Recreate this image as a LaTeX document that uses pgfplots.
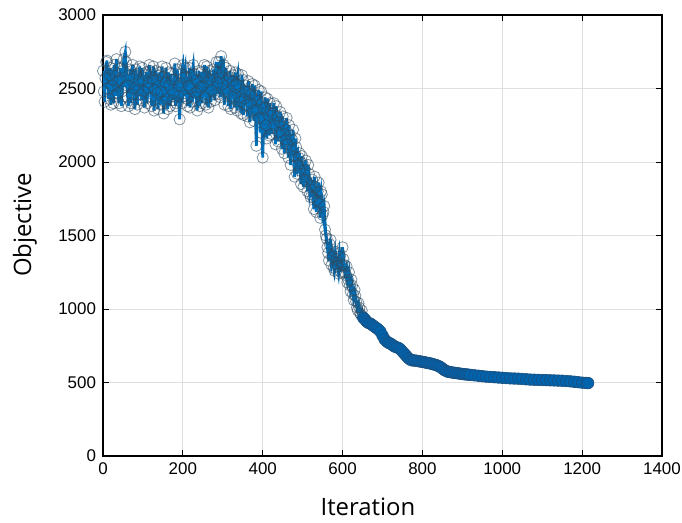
\documentclass[border=0pt]{standalone}
\usepackage{pgfplots}
\pgfplotsset{compat=1.18}
\usepackage{fontspec}
\setmainfont{Liberation Sans}
\newfontfamily\labelfont{Open Sans}
\definecolor{mblue}{HTML}{0072BD}
\definecolor{mfill}{HTML}{0063AE}
\definecolor{mdark}{HTML}{2E4B62}
\definecolor{medge}{HTML}{1D4F7E}
\begin{document}
\begin{tikzpicture}
\begin{axis}[
  scale only axis, width=279.5bp, height=220.5bp,
  xmin=0, xmax=1400, ymin=0, ymax=3000,
  xtick={0,200,...,1400}, ytick={0,500,...,3000},
  grid=major, major grid style={gray!25, line width=0.5bp},
  tick align=inside, major tick length=3bp,
  tick style={black, line width=0.5bp},
  axis line style={black, line width=0.6bp},
  ticklabel style={font=\fontsize{8.5}{10}\selectfont},
  /pgf/number format/assume math mode=true,
  /pgf/number format/1000 sep={},
  scaled ticks=false,
  xlabel={Iteration}, ylabel={Objective},
  label style={font=\labelfont\fontsize{12}{14}\selectfont},
  xlabel style={at={(axis description cs:0.474,-0.1338)}, anchor=base},
  ylabel style={at={(axis description cs:-0.1395,0.524)}, anchor=center},
  noisy/.style={color=mblue, line width=1.4bp, mark=o, mark size=2.8bp,
    mark options={draw=mdark, draw opacity=0.6, line width=0.4bp}},
]
\coordinate (ll) at (rel axis cs:0,0);
\coordinate (ur) at (rel axis cs:1,1);
\addplot[noisy] coordinates {
(0,2620)(4,2410)(8,2680)(12,2500)(16,2590)(20,2390)(24,2560)(28,2660)(32,2450)(36,2550)
(40,2400)(44,2640)(48,2480)(52,2700)(56,2750)(60,2520)(64,2380)(68,2630)(72,2460)(76,2580)
(80,2360)(84,2600)(88,2490)(92,2650)(96,2420)(100,2560)(104,2370)(108,2610)(112,2500)(116,2660)
(120,2440)(124,2570)(128,2350)(132,2620)(136,2470)(140,2590)(144,2390)(148,2650)(152,2330)(156,2540)
(160,2430)(164,2610)(168,2380)(172,2560)(176,2470)(180,2670)(184,2400)(188,2520)(192,2290)(196,2600)
(200,2660)(204,2450)(208,2580)(212,2380)(216,2640)(220,2500)(224,2410)(228,2600)(232,2470)(236,2350)
(240,2620)(244,2510)(248,2400)(252,2580)(256,2440)(260,2650)(264,2370)(268,2560)(272,2490)(276,2630)
(280,2420)(284,2680)(288,2460)(292,2570)(296,2720)(300,2530)(304,2390)(308,2640)(312,2470)(316,2580)
(320,2360)(324,2550)(328,2440)(332,2610)(336,2350)(340,2520)(344,2410)(348,2590)(352,2320)(356,2480)
(360,2390)(364,2550)(368,2270)(372,2460)(376,2350)(380,2520)(384,2110)(388,2420)(392,2300)(396,2480)
(400,2030)(404,2370)(408,2250)(412,2430)(416,2180)(420,2350)(424,2230)(428,2400)(432,2120)(436,2310)
(440,2200)(444,2340)(448,2090)(452,2260)(456,2150)(460,2300)(464,2030)(468,2180)(472,2080)(476,2220)
(480,1900)(484,2100)(488,1980)(492,2060)(496,1850)(500,1990)(504,1880)(508,2010)(512,1800)(516,1920)
(520,1760)(524,1880)(528,1680)(532,1830)(536,1740)(540,1860)(544,1620)(548,1780)(552,1660)(556,1540)
(560,1480)(564,1380)(568,1440)(572,1300)(576,1360)(580,1260)(584,1340)(588,1290)(592,1380)(596,1250)
(600,1420)(604,1300)(608,1230)(612,1180)(616,1250)(620,1120)(624,1160)(628,1060)(632,1090)(636,1010)
(640,1040)(644,970)(648,990)(652,940)
};
\addplot[noisy] coordinates {
(2,2480)(6,2570)(10,2690)(14,2430)(18,2640)(22,2520)(26,2400)(30,2610)(34,2700)(38,2470)
(42,2560)(46,2380)(50,2620)(54,2510)(58,2680)(62,2440)(66,2590)(70,2400)(74,2660)(78,2500)
(82,2630)(86,2390)(90,2550)(94,2460)(98,2640)(102,2480)(106,2590)(110,2400)(114,2540)(118,2620)
(122,2380)(126,2650)(130,2490)(134,2560)(138,2360)(142,2610)(146,2480)(150,2580)(154,2410)(158,2640)
(162,2360)(166,2520)(170,2600)(174,2420)(178,2560)(182,2380)(186,2630)(190,2450)(194,2540)(198,2400)
(202,2570)(206,2640)(210,2430)(214,2520)(218,2370)(222,2590)(226,2660)(230,2440)(234,2560)(238,2480)
(242,2380)(246,2610)(250,2520)(254,2660)(258,2390)(262,2540)(266,2620)(270,2410)(274,2580)(278,2460)
(282,2610)(286,2540)(290,2680)(294,2440)(298,2610)(302,2660)(306,2480)(310,2560)(314,2380)(318,2620)
(322,2450)(326,2590)(330,2370)(334,2530)(338,2600)(342,2440)(346,2330)(350,2560)(354,2430)(358,2520)
(362,2310)(366,2480)(370,2400)(374,2530)(378,2280)(382,2450)(386,2360)(390,2490)(394,2200)(398,2400)
(402,2290)(406,2440)(410,2160)(414,2320)(418,2400)(422,2190)(426,2330)(430,2250)(434,2380)(438,2140)
(442,2270)(446,2180)(450,2310)(454,2060)(458,2220)(462,2120)(466,2250)(470,1980)(474,2150)(478,2040)
(482,2160)(486,1920)(490,2030)(494,1940)(498,2040)(502,1830)(506,1950)(510,1870)(514,1980)(518,1780)
(522,1840)(526,1760)(530,1900)(534,1660)(538,1800)(542,1720)(546,1800)(550,1640)(554,1700)(558,1500)
(562,1420)(566,1330)(570,1470)(574,1350)(578,1280)(582,1390)(586,1310)(590,1240)(594,1360)(598,1300)
(602,1340)(606,1250)(610,1290)(614,1200)(618,1160)(622,1200)(626,1100)(630,1130)(634,1050)(638,990)
(642,1010)(646,960)(650,950)
};
\addplot[color=mblue, line width=1bp, mark=*, mark size=2.9bp,
  mark options={fill=mfill, draw=medge, line width=0.3bp}] coordinates {
(652,940)(656,930)(660,915)(665,905)(670,900)(675,890)(680,880)(685,870)(690,860)(695,845)
(700,820)(705,795)(710,780)(715,770)(720,765)(725,755)(730,745)(735,740)(740,735)(745,725)
(750,710)(755,695)(760,680)(765,665)(770,655)(775,650)(780,650)(785,648)(790,645)(795,643)
(800,640)(805,638)(810,635)(815,632)(820,630)(825,625)(830,622)(835,618)(840,612)(845,605)
(850,595)(855,585)(860,578)(865,572)(870,570)(875,568)(880,566)(885,564)(890,562)(895,560)
(900,558)(905,556)(910,555)(915,553)(920,552)(930,549)(940,546)(950,543)(960,540)(970,538)
(980,536)(990,534)(1000,532)(1010,530)(1020,528)(1030,527)(1040,526)(1050,524)(1060,522)(1070,520)
(1080,519)(1090,518)(1100,517)(1110,516)(1120,515)(1130,514)(1140,513)(1150,512)(1160,510)(1170,508)
(1180,505)(1190,502)(1200,499)(1210,497)(1215,496)
};
\end{axis}
\pgfresetboundingbox
\path ([shift={(-51.5bp,-33.5bp)}]ll) rectangle ([shift={(10bp,7.5bp)}]ur);
\end{tikzpicture}
\end{document}
